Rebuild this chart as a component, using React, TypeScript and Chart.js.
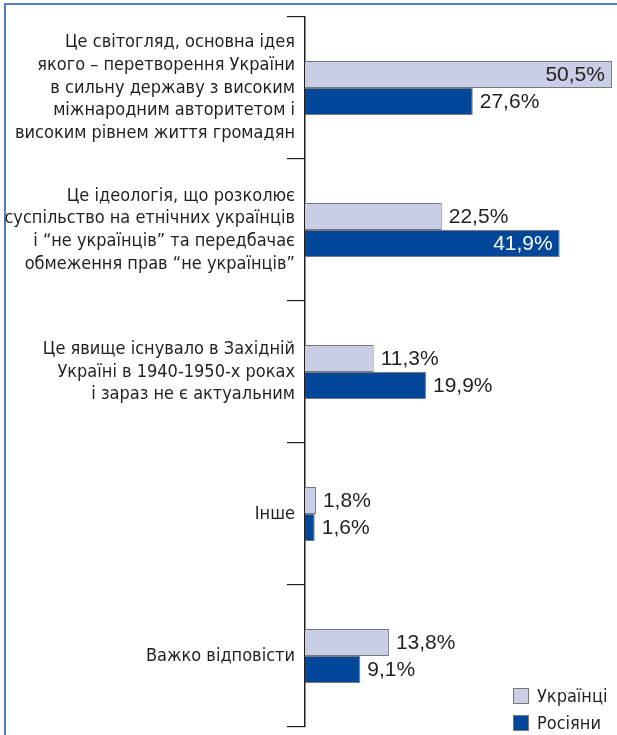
import React, { useEffect, useRef } from "react";
import { Chart, registerables } from "chart.js";

Chart.register(...registerables);

const categories: string[][] = [
  ["Це світогляд, основна ідея", "якого – перетворення України", "в сильну державу з високим", "міжнародним авторитетом і", "високим рівнем життя громадян"],
  ["Це ідеологія, що розколює", "суспільство на етнічних українців", "і “не українців” та передбачає", "обмеження прав “не українців”"],
  ["Це явище існувало в Західній", "Україні в 1940-1950-х роках", "і зараз не є актуальним"],
  ["Інше"],
  ["Важко відповісти"],
];
const seriesNames = ["Українці", "Росіяни"];
const ukrainians = [50.5, 22.5, 11.3, 1.8, 13.8];
const russians = [27.6, 41.9, 19.9, 1.6, 9.1];

const LIGHT = "#c9cde5";
const DARK = "#00479a";
const BORDER = "#77787b";
const TEXT = "#231f20";
const LABEL_FONT = '"Liberation Sans Narrow", "DejaVu Sans Condensed", sans-serif';
const VALUE_FONT = '"Liberation Sans", Arial, sans-serif';

const fmt = (v: number) => v.toFixed(1).replace(".", ",") + "%";

const valueLabels = {
  id: "valueLabels",
  afterDatasetsDraw(chart: any) {
    const ctx = chart.ctx;
    const area = chart.chartArea;
    ctx.save();
    ctx.font = `21px ${VALUE_FONT}`;
    ctx.textBaseline = "middle";
    chart.data.datasets.forEach((ds: any, di: number) => {
      const meta = chart.getDatasetMeta(di);
      meta.data.forEach((bar: any, i: number) => {
        const text = fmt(ds.data[i]);
        const w = ctx.measureText(text).width;
        const x = bar.x;
        const y = bar.y;
        if (x + 7 + w > area.right) {
          ctx.textAlign = "right";
          ctx.fillStyle = di === 1 ? "#ffffff" : TEXT;
          ctx.fillText(text, x - 7, y + 1);
        } else {
          ctx.textAlign = "left";
          ctx.fillStyle = TEXT;
          ctx.fillText(text, x + 7, y + 1);
        }
      });
    });
    ctx.restore();
  },
};

export default function App() {
  const ref = useRef<HTMLCanvasElement | null>(null);
  useEffect(() => {
    if (!ref.current) return;
    const chart = new Chart(ref.current, {
      type: "bar",
      data: {
        labels: categories,
        datasets: [
          { label: seriesNames[0], data: ukrainians, backgroundColor: LIGHT, borderColor: BORDER, borderWidth: 1, categoryPercentage: 0.38, barPercentage: 1 },
          { label: seriesNames[1], data: russians, backgroundColor: DARK, borderColor: BORDER, borderWidth: 1, categoryPercentage: 0.38, barPercentage: 1 },
        ],
      },
      options: {
        indexAxis: "y",
        animation: false,
        responsive: false,
        maintainAspectRatio: false,
        layout: { padding: { top: 17, bottom: 8, right: 2, left: 0 } },
        plugins: { legend: { display: false }, tooltip: { enabled: false } },
        scales: {
          x: { display: false, min: 0, max: 51 },
          y: {
            afterFit: (scale: any) => {
              scale.width = 305;
              scale.paddingTop = 0;
              scale.paddingBottom = 0;
            },
            border: { display: true, color: TEXT, width: 1.5 },
            grid: { display: true, offset: true, drawOnChartArea: false, drawTicks: true, tickLength: 18, color: TEXT, lineWidth: 1.2 },
            ticks: { padding: -8, color: TEXT, font: { family: LABEL_FONT, size: 18, lineHeight: 1.26 } },
          },
        },
      },
      plugins: [valueLabels],
    });
    return () => chart.destroy();
  }, []);

  const legendItem = (name: string, color: string, top: number) => (
    <div style={{ position: "absolute", left: 513, top, display: "flex", alignItems: "center", height: 16 }}>
      <div style={{ width: 14, height: 14, background: color, border: `1px solid ${BORDER}` }} />
      <span style={{ marginLeft: 8, font: `18px ${LABEL_FONT}`, color: TEXT, lineHeight: "16px" }}>{name}</span>
    </div>
  );

  return (
    <div style={{ position: "fixed", left: 0, top: 0, width: 617, height: 735, background: "#fff", overflow: "hidden" }}>
      <div style={{ position: "absolute", left: 4, top: 3, right: 0, bottom: 0, borderTop: "2px solid #4f7fbf", borderLeft: "2px solid #4f7fbf" }} />
      <canvas ref={ref} width={617} height={735} style={{ position: "absolute", left: 0, top: 0, width: 617, height: 735 }} />
      {legendItem(seriesNames[0], LIGHT, 688)}
      {legendItem(seriesNames[1], DARK, 715)}
    </div>
  );
}
